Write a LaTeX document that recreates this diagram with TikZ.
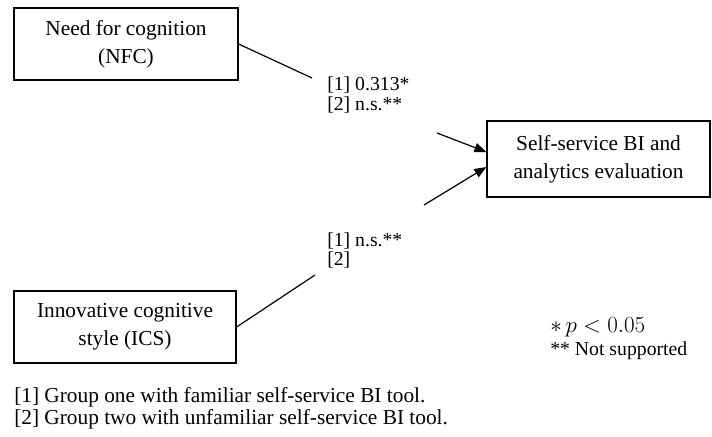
\documentclass[tikz,border=0pt]{standalone}
\usepackage{fontspec}
\setmainfont{Liberation Serif}
\usetikzlibrary{arrows.meta}
\begin{document}
\begin{tikzpicture}[x=0.75pt,y=-0.75pt,
  construct/.style={draw, line width=0.9pt, inner sep=0pt, align=center,
    font=\fontsize{16}{21}\selectfont},
  link/.style={line width=0.9pt},
  arr/.style={line width=0.9pt, -{Triangle[length=9pt,width=7pt]}},
  coef/.style={anchor=west, inner sep=0pt, align=left,
    font=\fontsize{14.8}{14.6}\selectfont},
  notes/.style={anchor=west, inner sep=0pt, align=left,
    font=\fontsize{16}{16.5}\selectfont}]
\useasboundingbox (0,0) rectangle (712,436);

% constructs
\node[construct, minimum width=168pt, minimum height=54pt] (nfc) at (126,44)
  {Need for cognition\\(NFC)};
\node[construct, minimum width=167.25pt, minimum height=57pt] (eval) at (598.5,159)
  {Self-service BI and\\analytics evaluation};
\node[construct, minimum width=166.5pt, minimum height=54pt] (ics) at (125,327)
  {Innovative cognitive\\style (ICS)};

% free ends of the broken paths
\coordinate (nfcEnd) at (312,78);
\coordinate (nfcArr) at (437,133);
\coordinate (icsArr) at (424,205);
\coordinate (icsEnd) at (315,275);

% paths
\draw[link] (nfc.east) -- (nfcEnd);
\draw[arr] (nfcArr) -- ([yshift=5.25pt]eval.west);
\draw[link] (ics.east) -- (icsEnd);
\draw[arr] (icsArr) -- ([yshift=-6pt]eval.west);

% path coefficients
\node[coef] (coefNfc) at (327,95) {[1] 0.313*\\{}[2] n.s.**};
\node[coef] (coefIcs) at (327,250.5) {[1] n.s.**\\{}[2]};

% legend
\node[anchor=west, inner sep=0pt, align=left, font=\fontsize{14.8}{17}\selectfont]
  (legend) at (550,338.5)
  {{\fontsize{16.5}{17}\selectfont$\ast\, p < 0.05$}\\** Not supported};

% group notes
\node[notes] (groups) at (14,408)
  {[1] Group one with familiar self-service BI tool.\\{}%
   [2] Group two with unfamiliar self-service BI tool.};
\end{tikzpicture}
\end{document}
